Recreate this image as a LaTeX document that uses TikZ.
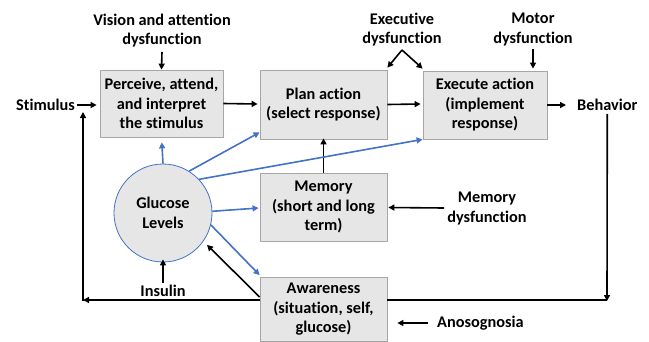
\documentclass[tikz,border=0pt]{standalone}
\usepackage{fontspec}
\setmainfont[Ligatures=NoCommon]{Carlito}
\usetikzlibrary{arrows.meta,calc}
\definecolor{boxfill}{HTML}{E6E6E6}
\definecolor{boxline}{HTML}{A6A6A6}
\definecolor{bl}{HTML}{4472C4}
\begin{document}
\begin{tikzpicture}[x=1pt,y=-1pt,
  font=\bfseries\fontsize{16.3}{19.5}\selectfont,
  procbox/.style={draw=boxline,fill=boxfill,line width=0.8pt,align=center,inner sep=0pt},
  lbl/.style={align=center,inner sep=0pt},
  arr/.style={line width=1.6pt,-{Triangle[length=6pt,width=6pt]}},
  barr/.style={line width=1.6pt,draw=bl,-{Triangle[length=6pt,width=6pt]}},
  plain/.style={line width=1.6pt}]
\useasboundingbox (0,0) rectangle (649,341);
% boxes
\node[procbox,minimum width=123pt,minimum height=67pt] (perc) at (161.5,103.5) {Perceive, attend,\\and interpret\\the stimulus};
\node[procbox,minimum width=127pt,minimum height=69pt] (plan) at (323.5,104.5) {Plan action\\(select response)};
\node[procbox,minimum width=124pt,minimum height=68pt] (exec) at (485,105) {Execute action\\(implement\\response)};
\node[procbox,minimum width=127pt,minimum height=68pt] (mem) at (323.5,207) {Memory\\(short and long\\term)};
\node[procbox,minimum width=127pt,minimum height=64pt] (aw) at (323.5,309.5) {Awareness\\(situation, self,\\glucose)};
\node[circle,draw=bl,fill=boxfill,line width=0.8pt,minimum size=98pt,align=center,inner sep=0pt] (glu) at (163,213) {Glucose\\Levels};
% labels
\node[lbl] (vis) at (162,30.5) {Vision and attention\\dysfunction};
\node[lbl] (exd) at (402,29.5) {Executive\\dysfunction};
\node[lbl] (mot) at (533,29.5) {Motor\\dysfunction};
\node[lbl,anchor=east] (stim) at (75,105) {Stimulus};
\node[lbl,anchor=west] (beh) at (577,105) {Behavior};
\node[lbl] (memd) at (487,208.5) {Memory\\dysfunction};
\node[lbl,anchor=west] (ano) at (437,323) {Anosognosia};
\node[lbl] (ins) at (163,291) {Insulin};
% coordinates
\coordinate (visend) at (162,52);
\coordinate (exdtop) at (402,50);
\coordinate (motend) at (533,49);
\coordinate (loopR) at (607,300);
\coordinate (loopL) at (83,300);
\coordinate (stimin) at (83,112);
% black arrows
\draw[arr] (visend) -- (perc.north);
\draw[arr] (exdtop) -- ($(plan.north east)+(0,-2)$);
\draw[arr] (exdtop) -- ($(exec.north west)+(0,-2)$);
\draw[arr] (motend) -- ($(exec.north)+(48,-2)$);
\draw[arr] (stim.east) ++(2,0) -- ($(perc.west)+(-3,1.5)$);
\draw[arr] (perc.east) -- ($(plan.west)+(-2,-0.5)$);
\draw[arr] (plan.east) -- ($(exec.west)+(-2,-1)$);
\draw[arr] (exec.east) -- ($(beh.west)+(-11,0)$);
\draw[arr] (mem.north) -- ($(plan.south)+(0,-1)$);
\draw[arr] ($(memd.west)+(-3,-0.5)$) -- ($(mem.east)+(1,0.5)$);
\draw[arr] ($(ano.west)+(-9,0)$) -- ($(aw.east)+(10,13.5)$);
\draw[arr] ($(ins.north)+(0,-2)$) -- ($(glu.south)+(0,-3)$);
\draw[arr] ($(beh.south)+(0,3)$) -- ($(loopR)+(0,1)$);
\draw[plain] (loopR) -- (aw.east |- loopR);
\draw[arr] (aw.west |- loopR) -- (loopL);
\draw[arr] ($(loopL)+(0,0.8)$) -- (stimin);
\draw[arr,shorten >=5pt] ($(aw.west |- loopR)+(0,-3)$) -- (glu.-35);
% blue arrows
\draw[barr,shorten >=5pt] (glu.north) -- (perc.south);
\draw[barr] (glu.58) -- ($(plan.south west)+(0,-7)$);
\draw[barr] (glu.43) -- (exec.south west);
\draw[barr] (glu.2) -- ($(mem.west)+(-1,1)$);
\draw[barr] (glu.-14) -- ($(aw.north west)+(0,-2)$);
\end{tikzpicture}
\end{document}
